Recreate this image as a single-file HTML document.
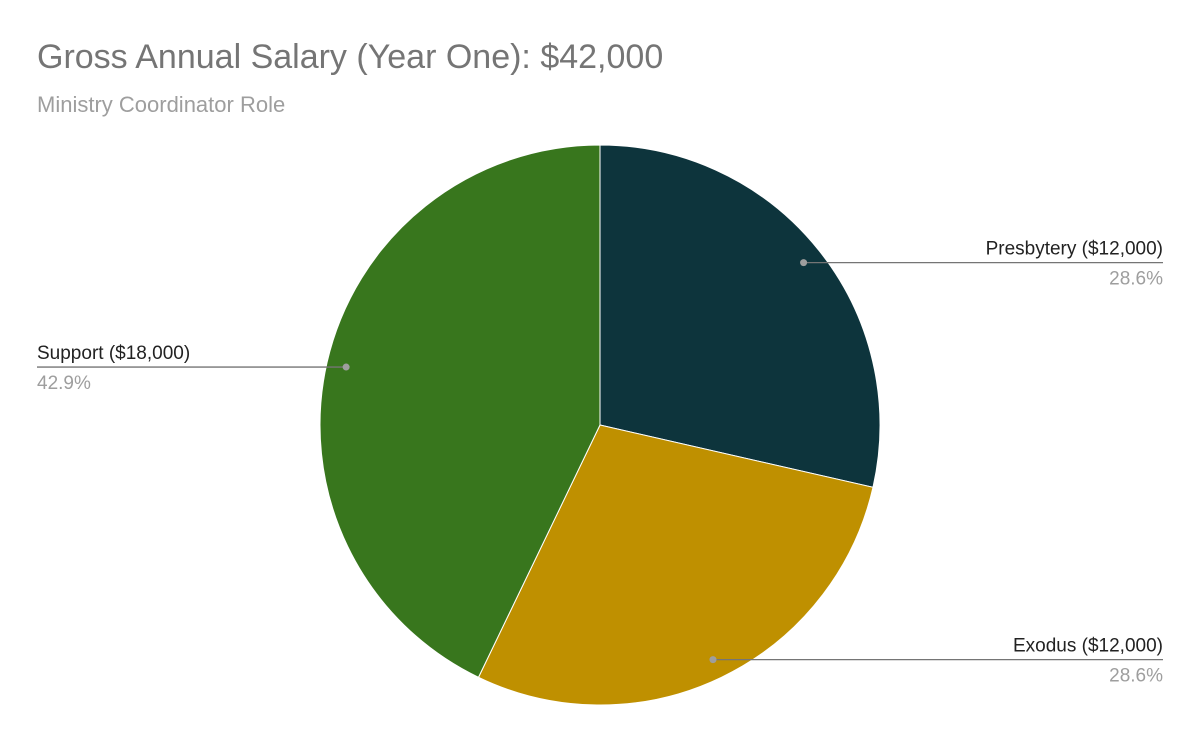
<!DOCTYPE html>
<html><head><meta charset="utf-8"><style>
html,body{margin:0;padding:0;background:#fff;}
svg{display:block;font-family:"Liberation Sans",Arial,sans-serif;}
</style></head><body>
<svg id="chart" width="1200" height="742" viewBox="0 0 1200 742">
<text x="37" y="68" font-size="34" fill="#757575">Gross Annual Salary (Year One): $42,000</text>
<text x="37" y="112" font-size="22" fill="#9e9e9e">Ministry Coordinator Role</text>
<g id="slices"></g>
<g id="labels"></g>
</svg>
<script>
const categories = ["Presbytery", "Exodus", "Support"];
const values = [12000, 12000, 18000];
const valueLabels = ["$12,000", "$12,000", "$18,000"];
const colors = ["#0d343c", "#bf9000", "#38761d"];
const cx = 600, cy = 425, r = 280;
const NS = "http://www.w3.org/2000/svg";
const total = values.reduce((a, b) => a + b, 0);
const slicesG = document.getElementById("slices");
const labelsG = document.getElementById("labels");
function pt(a, rr) { return [cx + rr * Math.sin(a), cy - rr * Math.cos(a)]; }
let start = 0;
values.forEach((v, i) => {
  const frac = v / total;
  const end = start + frac * 2 * Math.PI;
  const [x1, y1] = pt(start, r), [x2, y2] = pt(end, r);
  const large = (end - start) > Math.PI ? 1 : 0;
  const p = document.createElementNS(NS, "path");
  p.setAttribute("d", `M${cx},${cy} L${x1},${y1} A${r},${r} 0 ${large} 1 ${x2},${y2} Z`);
  p.setAttribute("fill", colors[i]);
  p.setAttribute("stroke", "#fff");
  p.setAttribute("stroke-width", "1");
  
  
  slicesG.appendChild(p);
  const mid = (start + end) / 2;
  const [dx, dy] = pt(mid, r * 0.93);
  const right = Math.sin(mid) >= 0;
  const lx = right ? 1163 : 37;
  const line = document.createElementNS(NS, "line");
  line.setAttribute("x1", dx); line.setAttribute("y1", dy);
  line.setAttribute("x2", lx); line.setAttribute("y2", dy);
  line.setAttribute("stroke", "#757575"); line.setAttribute("stroke-width", "1.3");
  
  
  labelsG.appendChild(line);
  const dot = document.createElementNS(NS, "circle");
  dot.setAttribute("cx", dx); dot.setAttribute("cy", dy); dot.setAttribute("r", "3.5");
  dot.setAttribute("fill", "#9e9e9e");
  
  
  labelsG.appendChild(dot);
  const t1 = document.createElementNS(NS, "text");
  t1.setAttribute("x", lx); t1.setAttribute("y", dy - 8);
  t1.setAttribute("font-size", "19"); t1.setAttribute("fill", "#222");
  t1.setAttribute("text-anchor", right ? "end" : "start");
  t1.textContent = categories[i] + " (" + valueLabels[i] + ")";
  
  
  labelsG.appendChild(t1);
  const t2 = document.createElementNS(NS, "text");
  t2.setAttribute("x", lx); t2.setAttribute("y", dy + 22);
  t2.setAttribute("font-size", "19"); t2.setAttribute("fill", "#9e9e9e");
  t2.setAttribute("text-anchor", right ? "end" : "start");
  t2.textContent = (frac * 100).toFixed(1) + "%";
  
  
  labelsG.appendChild(t2);
  start = end;
});
</script>
</body></html>
